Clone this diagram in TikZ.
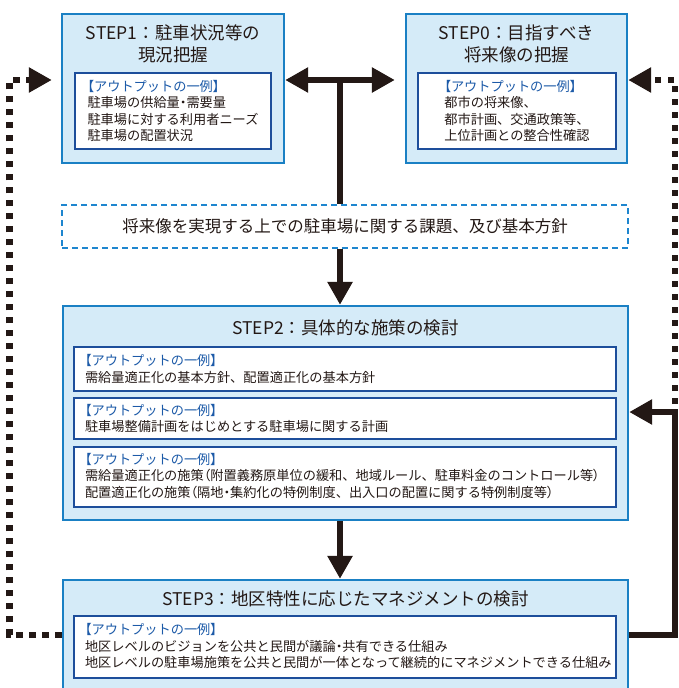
\documentclass[tikz,border=0pt]{standalone}
\usepackage{fontspec}
\setmainfont{Noto Sans CJK JP}
\newfontfamily\paltfont[RawFeature=+palt]{Noto Sans CJK JP}
\usetikzlibrary{arrows.meta}
\definecolor{boxfill}{HTML}{D5EBF8}
\definecolor{boxline}{HTML}{1A80C4}
\definecolor{inline}{HTML}{1D4E9B}
\definecolor{headc}{HTML}{1C5AA8}
\definecolor{ink}{HTML}{231815}
\definecolor{dashc}{HTML}{1E86CF}
\newcommand\outhdr{{\color{headc}{\paltfont 【}アウトプットの一例{\paltfont 】}}}
\newcommand\pl[1]{{\paltfont #1}}
\tikzset{
  outerbox/.style={draw=boxline, fill=boxfill, line width=2.4pt, inner sep=0pt},
  innerbox/.style={draw=inline, fill=white, line width=2.4pt, inner sep=0pt},
  dashbox/.style={draw=dashc, line width=2.4pt, dash pattern=on 6pt off 4pt, inner sep=0pt},
  bodytext/.style={font=\fontsize{13.2}{16.3}\selectfont, text=ink, align=left, inner sep=0pt},
  titletext/.style={font=\fontsize{17.5}{22}\selectfont, text=ink, align=center, inner sep=0pt},
  issuetext/.style={font=\fontsize{16.5}{20}\selectfont, text=ink, inner sep=0pt},
  conn/.style={draw=ink, line width=6pt, line join=miter},
  dotconn/.style={draw=ink, line width=6.5pt, dash pattern=on 6.5pt off 6.5pt, line join=miter},
  bigtip/.tip={Triangle[length=23pt,width=24pt]},
}
\begin{document}
\begin{tikzpicture}[x=1pt,y=-1pt]
\path[use as bounding box, clip] (0,0) rectangle (678,688);

% STEP1
\node[outerbox, minimum width=222pt, minimum height=149pt] (s1) at (173,88.5) {};
\node[titletext] (s1t) at (173,44) {STEP1：駐車状況等の\\現況把握};
\node[innerbox, minimum width=196pt, minimum height=76pt] (s1in) at (173,111) {};
\node[bodytext] (s1tx) at (s1in.center) {\outhdr\\駐車場の供給量\pl{・}需要量\\駐車場に対する利用者ニーズ\\駐車場の配置状況};

% STEP0
\node[outerbox, minimum width=221pt, minimum height=149pt] (s0) at (516.5,88.5) {};
\node[titletext] (s0t) at (516.5,44) {STEP0：目指すべき\\将来像の把握};
\node[innerbox, minimum width=198pt, minimum height=76pt] (s0in) at (517,111) {};
\node[bodytext] (s0tx) at (s0in.center) {\outhdr\\都市の将来像、\\都市計画、交通政策等、\\上位計画との整合性確認};

% Issues (dashed)
\node[dashbox, minimum width=566pt, minimum height=43pt] (d) at (345,226.5) {};
\node[issuetext] (dt) at (d.center) {将来像を実現する上での駐車場に関する課題、及び基本方針};

% STEP2
\node[outerbox, minimum width=565pt, minimum height=214pt] (s2) at (345.5,413) {};
\node[titletext] (s2t) at (345.5,328) {STEP2：具体的な施策の検討};
\node[innerbox, minimum width=542pt, minimum height=44pt] (s2a) at (345,369) {};
\node[bodytext, anchor=west] (s2atx) at ([xshift=12pt]s2a.west) {\outhdr\\需給量適正化の基本方針、配置適正化の基本方針};
\node[innerbox, minimum width=542pt, minimum height=41pt] (s2b) at (345,418.5) {};
\node[bodytext, anchor=west] (s2btx) at ([xshift=12pt]s2b.west) {\outhdr\\駐車場整備計画をはじめとする駐車場に関する計画};
\node[innerbox, minimum width=542pt, minimum height=60pt] (s2c) at (345,477) {};
\node[bodytext, anchor=west] (s2ctx) at ([xshift=12pt,yshift=1pt]s2c.west) {\outhdr\\需給量適正化の施策\pl{（}附置義務原単位の緩和、地域ルール、駐車料金のコントロール等\pl{）}\\配置適正化の施策\pl{（}隔地\pl{・}集約化の特例制度、出入口の配置に関する特例制度等\pl{）}};

% STEP3
\node[outerbox, minimum width=565pt, minimum height=130pt] (s3) at (345.5,645) {};
\node[titletext] (s3t) at (345.5,599) {STEP3：地区特性に応じたマネジメントの検討};
\node[innerbox, minimum width=542pt, minimum height=62pt] (s3in) at (345,647) {};
\node[bodytext, anchor=west] (s3tx) at ([xshift=12pt,yshift=1pt]s3in.west) {\outhdr\\地区レベルのビジョンを公共と民間が議論\pl{・}共有できる仕組み\\地区レベルの駐車場施策を公共と民間が一体となって継続的にマネジメントできる仕組み};

% connector coordinates
\coordinate (J) at (340,80);
\coordinate (L1) at (9.5,635);
\coordinate (L2) at (9.5,80);
\coordinate (R1) at (675,635);
\coordinate (R2) at (675,412);
\coordinate (R3) at (675,404);
\coordinate (R4) at (675,80);

% connectors
\draw[conn, {bigtip}-{bigtip}, shorten >=10pt] (s1.east |- J) -- (s0.west |- J);
\draw[conn] (J) -- (J |- d.north);
\draw[conn, -{bigtip}] (J |- d.south) -- (J |- s2.north);
\draw[conn, -{bigtip}] (J |- s2.south) -- (J |- s3.north);
\draw[dotconn, -{bigtip}, shorten >=9pt] (s3.west |- L1) -- (L1) -- (L2) -- (s1.west |- L2);
\draw[conn, -{bigtip}] (s3.east |- R1) -- (R1) -- (R2) -- (s2.east |- R2);
\draw[dotconn, -{bigtip}] (R3) -- (R4) -- (s0.east |- R4);
\end{tikzpicture}
\end{document}
